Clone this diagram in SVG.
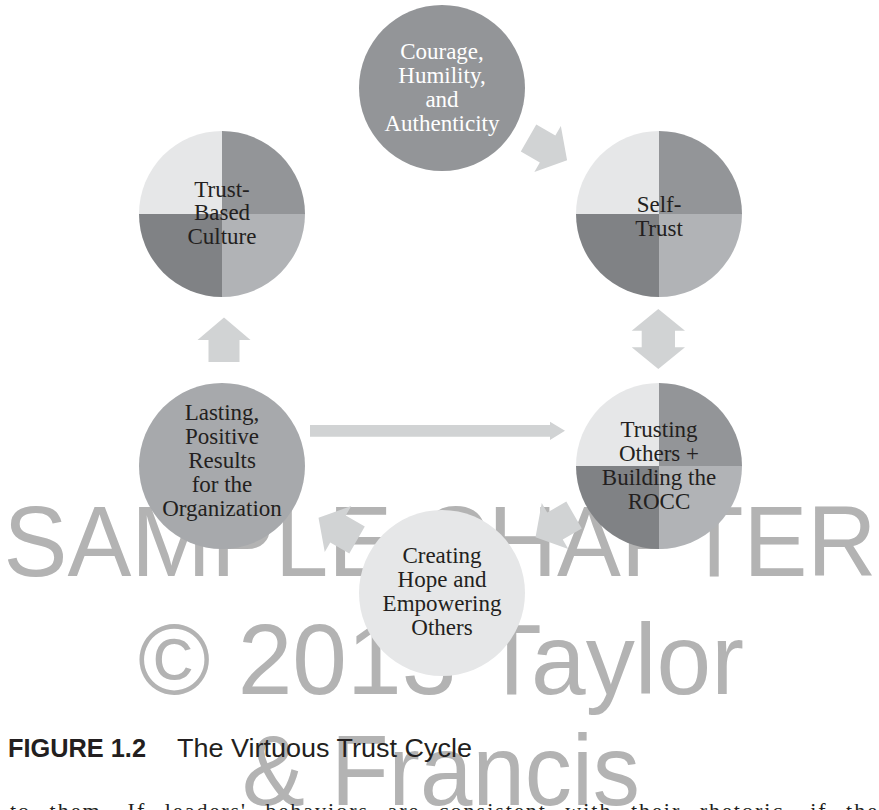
<svg xmlns="http://www.w3.org/2000/svg" width="879" height="810" viewBox="0 0 879 810">
<defs>
<style>
.wm{font-family:"Liberation Sans",Arial,sans-serif;font-size:100px;fill:#b3b3b3;text-anchor:middle}
.nt{font-family:"Liberation Serif","Times New Roman",serif;font-size:23px;fill:#231f20;text-anchor:middle}
.nw{fill:#ffffff}
.q1{fill:#e6e7e8}.q2{fill:#939598}.q3{fill:#808285}.q4{fill:#b1b3b6}
.arr{fill:#d1d3d4}
.cap{font-family:"Liberation Sans",Arial,sans-serif;font-size:26px;fill:#231f20}
.body{font-family:"Liberation Serif","Times New Roman",serif;font-size:22px;fill:#231f20;word-spacing:11px}
</style>
<polygon id="arrowShape" points="-22,-15.5 0,-15.5 0,-26.5 22.5,0 0,26.5 0,15.5 -22,15.5"/>
</defs>
<rect width="879" height="810" fill="#ffffff"/>
<g id="watermark">
<text class="wm" x="440" y="576" textLength="873" lengthAdjust="spacingAndGlyphs">SAMPLE CHAPTER</text>
<text class="wm" x="441" y="694" textLength="606" lengthAdjust="spacingAndGlyphs">© 2013 Taylor</text>
<text class="wm" x="441" y="805" textLength="398" lengthAdjust="spacingAndGlyphs">&amp; Francis</text>
</g>
<g id="connectors">
<use href="#arrowShape" class="arr" transform="translate(547.6,149) rotate(30)"/>
<polygon class="arr" points="658.3,309 685,330.7 675,330.7 675,347.3 685,347.3 658.3,369 631.7,347.3 641.7,347.3 641.7,330.7 631.7,330.7"/>
<use href="#arrowShape" class="arr" transform="translate(555,526) rotate(150)"/>
<use href="#arrowShape" class="arr" transform="translate(338,529) rotate(210)"/>
<use href="#arrowShape" class="arr" transform="translate(224,340) rotate(-90)"/>
<polygon class="arr" points="310,425 550,425 550,421.7 565,430.8 550,440 550,436.7 310,436.7"/>
</g>
<g id="node-courage">
<circle cx="442" cy="88" r="83" fill="#939598"/>
<text class="nt nw" x="442" y="59">Courage,</text>
<text class="nt nw" x="442" y="83">Humility,</text>
<text class="nt nw" x="442" y="107">and</text>
<text class="nt nw" x="442" y="131">Authenticity</text>
</g>
<g id="node-self-trust">
<path class="q1" d="M659,214 L576,214 A83,83 0 0 1 659,131 Z"/>
<path class="q2" d="M659,214 L659,131 A83,83 0 0 1 742,214 Z"/>
<path class="q3" d="M659,214 L659,297 A83,83 0 0 1 576,214 Z"/>
<path class="q4" d="M659,214 L742,214 A83,83 0 0 1 659,297 Z"/>
<text class="nt" x="659" y="212">Self-</text>
<text class="nt" x="659" y="236">Trust</text>
</g>
<g id="node-trusting-others">
<path class="q1" d="M659,466 L576,466 A83,83 0 0 1 659,383 Z"/>
<path class="q2" d="M659,466 L659,383 A83,83 0 0 1 742,466 Z"/>
<path class="q3" d="M659,466 L659,549 A83,83 0 0 1 576,466 Z"/>
<path class="q4" d="M659,466 L742,466 A83,83 0 0 1 659,549 Z"/>
<text class="nt" x="659" y="437">Trusting</text>
<text class="nt" x="659" y="461">Others +</text>
<text class="nt" x="659" y="485">Building the</text>
<text class="nt" x="659" y="509">ROCC</text>
</g>
<g id="node-creating-hope">
<circle cx="442" cy="593" r="83" fill="#e6e7e8"/>
<text class="nt" x="442" y="563">Creating</text>
<text class="nt" x="442" y="587">Hope and</text>
<text class="nt" x="442" y="611">Empowering</text>
<text class="nt" x="442" y="635">Others</text>
</g>
<g id="node-lasting-results">
<circle cx="222" cy="466" r="83" fill="#a7a9ac"/>
<text class="nt" x="222" y="420">Lasting,</text>
<text class="nt" x="222" y="444">Positive</text>
<text class="nt" x="222" y="468">Results</text>
<text class="nt" x="222" y="492">for the</text>
<text class="nt" x="222" y="516">Organization</text>
</g>
<g id="node-trust-based-culture">
<path class="q1" d="M222,214 L139,214 A83,83 0 0 1 222,131 Z"/>
<path class="q2" d="M222,214 L222,131 A83,83 0 0 1 305,214 Z"/>
<path class="q3" d="M222,214 L222,297 A83,83 0 0 1 139,214 Z"/>
<path class="q4" d="M222,214 L305,214 A83,83 0 0 1 222,297 Z"/>
<text class="nt" x="222" y="197">Trust-</text>
<text class="nt" x="222" y="220">Based</text>
<text class="nt" x="222" y="244">Culture</text>
</g>
<g id="caption">
<text class="cap" x="8" y="757"><tspan font-weight="bold" textLength="138" lengthAdjust="spacingAndGlyphs">FIGURE 1.2</tspan></text>
<text class="cap" x="177" y="757" textLength="295" lengthAdjust="spacingAndGlyphs">The Virtuous Trust Cycle</text>
</g>
<text class="body" x="10" y="818" textLength="867" lengthAdjust="spacing">to them. If leaders' behaviors are consistent with their rhetoric, if the</text>
</svg>
